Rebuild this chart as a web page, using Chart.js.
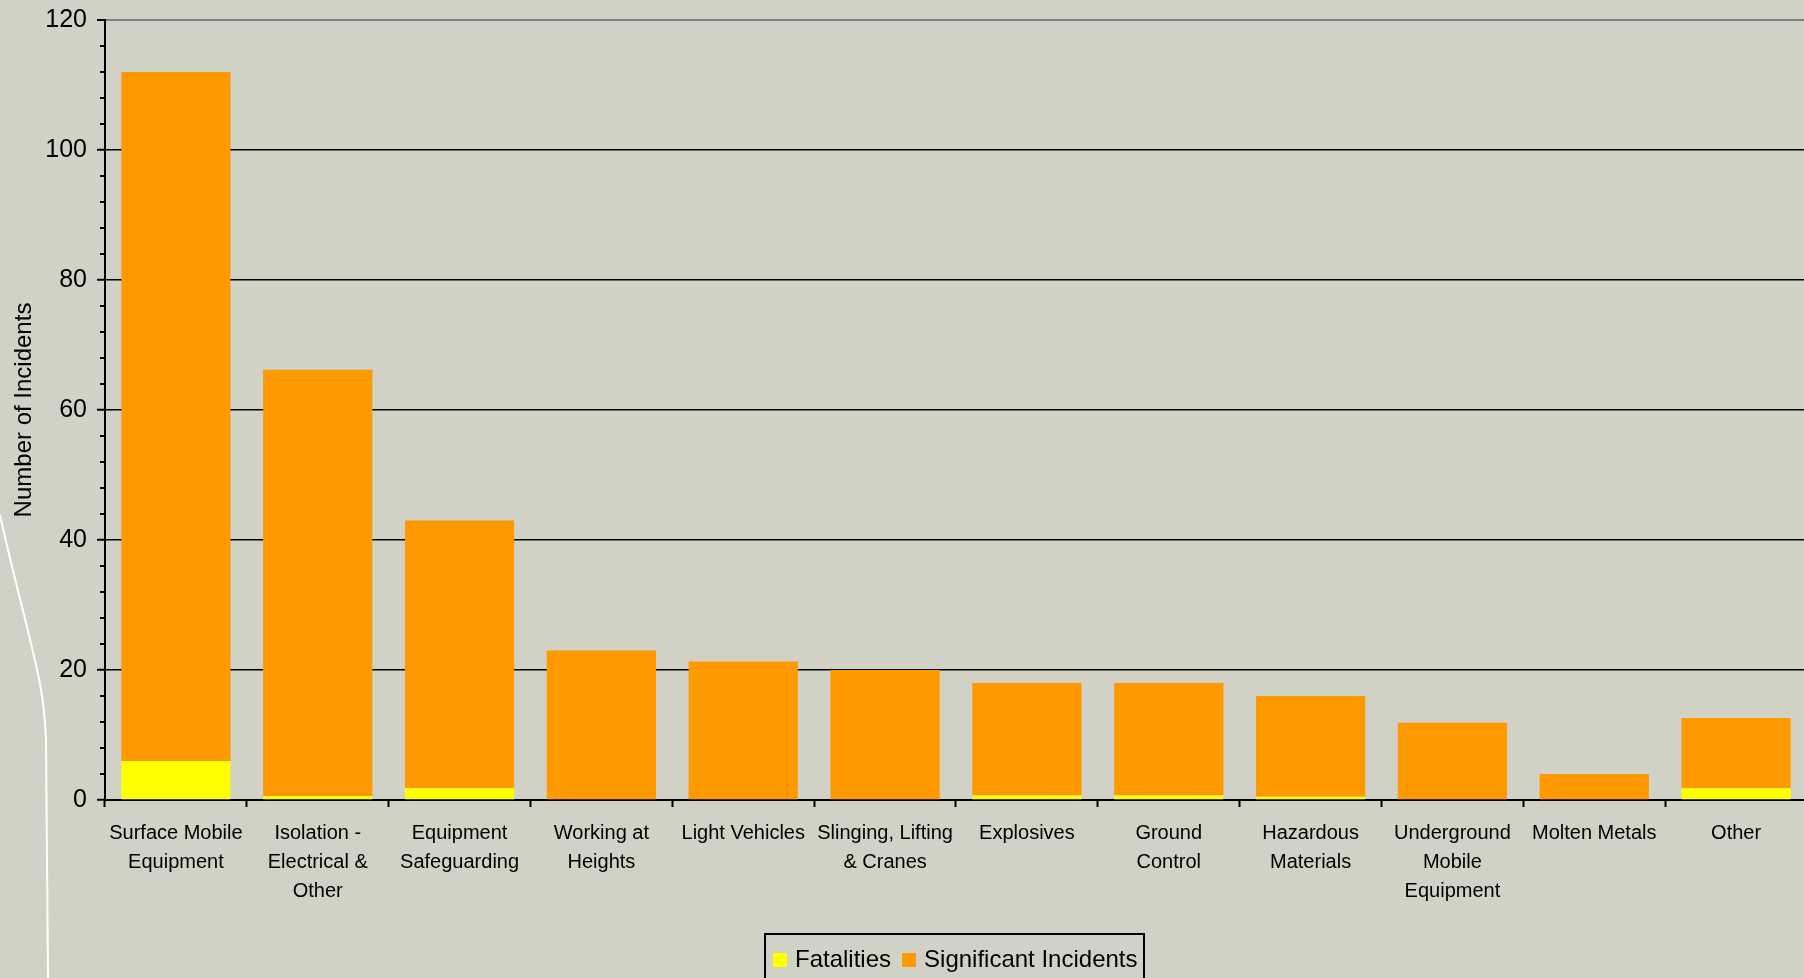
<!DOCTYPE html>
<html><head><meta charset="utf-8">
<script src="https://cdn.jsdelivr.net/npm/chart.js@4/dist/chart.umd.min.js"></script>
<style>html,body{margin:0;padding:0;background:#d2d1c5;overflow:hidden}
#wrap{position:relative;width:1804px;height:978px;overflow:hidden}</style></head>
<body><div id="wrap"><canvas id="c" width="1807" height="978"></canvas></div>
<script>
const categories = [["Surface Mobile","Equipment"],["Isolation -","Electrical &","Other"],["Equipment","Safeguarding"],["Working at","Heights"],["Light Vehicles"],["Slinging, Lifting","& Cranes"],["Explosives"],["Ground","Control"],["Hazardous","Materials"],["Underground","Mobile","Equipment"],["Molten Metals"],["Other"]];
const fatalities = [6, 0.6, 1.8, 0, 0, 0, 0.7, 0.7, 0.5, 0, 0, 1.8];
const significantIncidents = [106, 65.6, 41.2, 23, 21.3, 20, 17.3, 17.3, 15.5, 11.9, 4, 10.8];
const seriesLabels = ["Fatalities","Significant Incidents"];
const seriesColors = ["#ffff00","#ff9900"];
const yMin = 0, yMax = 120, yStep = 20, yMinorStep = 4;
const yTitle = "Number of Incidents";

const FONT = "'Liberation Sans', Arial, sans-serif";
const BG = "#d2d1c5";

const bgPlugin = {
  id: 'bg',
  beforeDraw(chart) {
    const ctx = chart.ctx;
    ctx.save();
    ctx.fillStyle = BG;
    ctx.fillRect(0, 0, chart.width, chart.height);
    // decorative white curve of the slide template
    ctx.strokeStyle = '#ffffff';
    ctx.lineWidth = 2;
    ctx.beginPath();
    ctx.moveTo(0, 515);
    ctx.bezierCurveTo(12, 570, 26, 620, 36, 665);
    ctx.bezierCurveTo(42, 690, 45, 710, 46, 740);
    ctx.lineTo(48, 978);
    ctx.stroke();
    ctx.restore();
  }
};

const minorTicks = {
  id: 'minorTicks',
  afterDraw(chart) {
    const y = chart.scales.y;
    const ctx = chart.ctx;
    ctx.save();
    ctx.strokeStyle = '#000';
    ctx.lineWidth = 2;
    for (let v = yMin; v <= yMax; v += yMinorStep) {
      if (v % yStep === 0) continue;
      const py = Math.round(y.getPixelForValue(v));
      ctx.beginPath();
      ctx.moveTo(y.right - 5, py);
      ctx.lineTo(y.right, py);
      ctx.stroke();
    }
    ctx.restore();
  }
};

const legendBox = {
  id: 'legendBox',
  afterDraw(chart) {
    const ctx = chart.ctx;
    const ds = chart.data.datasets;
    ctx.save();
    const bx = 765, by = 934, bw = 379, bh = 60;
    ctx.strokeStyle = '#000';
    ctx.lineWidth = 2;
    ctx.strokeRect(bx, by, bw, bh);
    ctx.font = "24px " + FONT;
    ctx.textBaseline = 'middle';
    ctx.fillStyle = '#000';
    let x = bx + 8;
    const cy = 960;
    ds.forEach((d) => {
      ctx.fillStyle = d.backgroundColor;
      ctx.fillRect(x, cy - 7, 14, 14);
      x += 22;
      ctx.fillStyle = '#000';
      ctx.fillText(d.label, x, cy);
      x += ctx.measureText(d.label).width + 11;
    });
    ctx.restore();
  }
};

new Chart(document.getElementById('c'), {
  type: 'bar',
  data: {
    labels: categories,
    datasets: [
      { label: seriesLabels[0], data: fatalities, backgroundColor: seriesColors[0], borderWidth: 0 },
      { label: seriesLabels[1], data: significantIncidents, backgroundColor: seriesColors[1], borderWidth: 0 }
    ]
  },
  options: {
    responsive: false,
    devicePixelRatio: 1,
    animation: false,
    layout: { padding: { top: 18, right: 0, left: 0, bottom: 0 } },
    datasets: { bar: { barPercentage: 0.77, categoryPercentage: 1 } },
    plugins: { legend: { display: false }, tooltip: { enabled: false } },
    scales: {
      x: {
        stacked: true,
        afterFit(s) { s.height = 178; },
        grid: { drawOnChartArea: false, tickLength: 7, tickColor: '#000', tickWidth: 2, offset: true },
        border: { color: '#000', width: 2 },
        ticks: { color: '#000', padding: 12, maxRotation: 0, autoSkip: false,
                 font: { family: FONT, size: 20, lineHeight: 1.44 } }
      },
      y: {
        stacked: true,
        min: yMin, max: yMax,
        afterFit(s) { s.width = 105; },
        grid: {
          color: (c) => (c.tick && c.tick.value === yMax) ? '#808080' : '#000',
          lineWidth: (c) => (c.tick && c.tick.value === yMax) ? 2 : 1.5,
          tickColor: '#000', tickLength: 8, tickWidth: 2
        },
        border: { color: '#000', width: 2 },
        ticks: { stepSize: yStep, color: '#000', padding: 10,
                 font: { family: FONT, size: 25, lineHeight: 0.8 } },
        title: { display: true, text: yTitle, color: '#000', padding: { top: 10, bottom: 0 },
                 font: { family: FONT, size: 24 } }
      }
    }
  },
  plugins: [bgPlugin, minorTicks, legendBox]
});
</script></body></html>
